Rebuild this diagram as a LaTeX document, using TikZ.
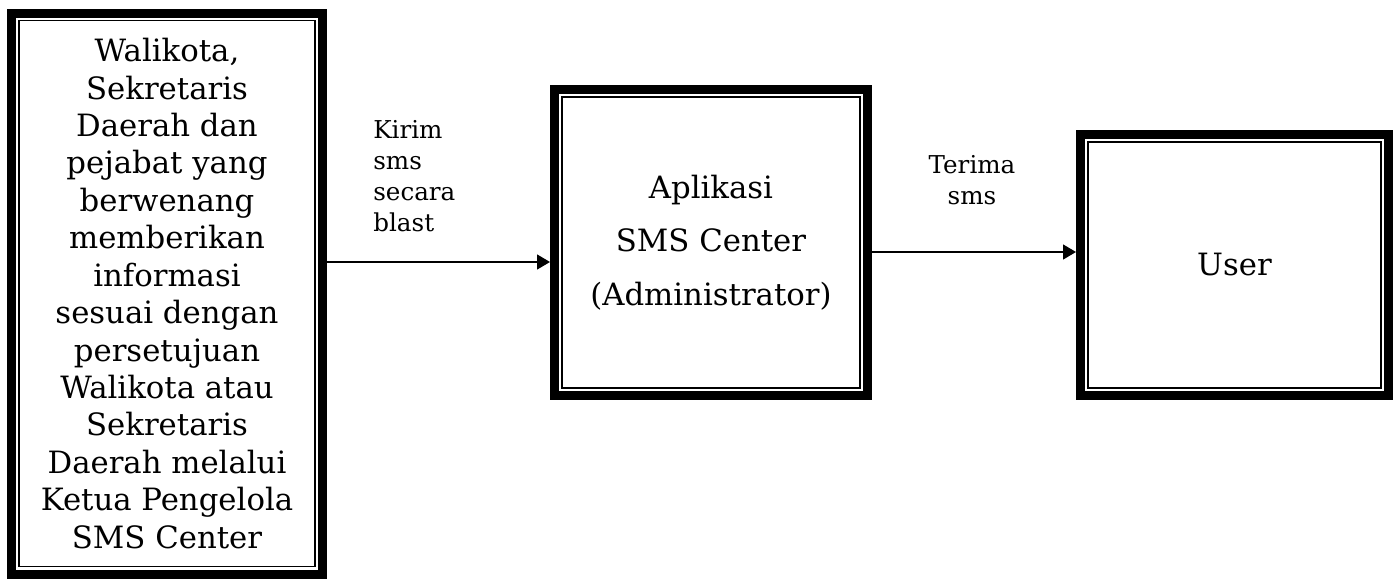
\documentclass[tikz,border=0pt]{standalone}
\usepackage{fontspec}
\setmainfont{DejaVu Serif}
\usepackage{tikz}
\usetikzlibrary{arrows.meta}
\usetikzlibrary{calc}
\tikzstyle{mybox} = [draw=black, fill=white, line width=1.8mm,
rectangle, inner sep=0pt, align=center, font=\fontsize{17.5}{21.3}\selectfont]
\tikzstyle{innerline} = [draw=black, line width=0.8pt]
\tikzstyle{flowlabel} = [font=\fontsize{14}{17.6}\selectfont, inner sep=0pt]
\tikzstyle{flow} = [draw=black, line width=0.8pt, -{Triangle[length=2.6mm,width=3mm]}]

\begin{document}
\begin{tikzpicture}
    \useasboundingbox (0,0) rectangle (27.9,11.62);
    \node [mybox, minimum width=6.22cm, minimum height=11.22cm] (sumber) at (3.34,5.75) {%
        Walikota,\\Sekretaris\\Daerah dan\\pejabat yang\\berwenang\\memberikan\\informasi\\sesuai dengan\\persetujuan\\Walikota atau\\Sekretaris\\Daerah melalui\\Ketua Pengelola\\SMS Center};
    \node [mybox, minimum width=6.26cm, minimum height=6.12cm, font=\fontsize{17.5}{30.4}\selectfont] (aplikasi) at (14.22,6.77) {Aplikasi\\SMS Center\\(Administrator)};
    \node [mybox, minimum width=6.16cm, minimum height=5.22cm] (user) at (24.69,6.32) {User};
    % garis tipis di dalam tiap kotak
    \foreach \n in {sumber,aplikasi,user}
        \draw [innerline] ($(\n.south west)+(0.24,0.24)$) rectangle ($(\n.north east)-(0.24,0.24)$);
    \coordinate (masuk1) at ([yshift=-3.9mm]aplikasi.west);
    \coordinate (masuk2) at ([yshift=2.6mm]user.west);
    \draw [flow] (sumber.east |- masuk1) -- (masuk1);
    \draw [flow] (aplikasi.east |- masuk2) -- (masuk2);
    \node [flowlabel, anchor=west, align=left] (kirim) at (7.46,8.09) {Kirim\\sms\\secara\\blast};
    \node [flowlabel, align=center] (terima) at (19.44,8.02) {Terima\\sms};
\end{tikzpicture}
\end{document}
